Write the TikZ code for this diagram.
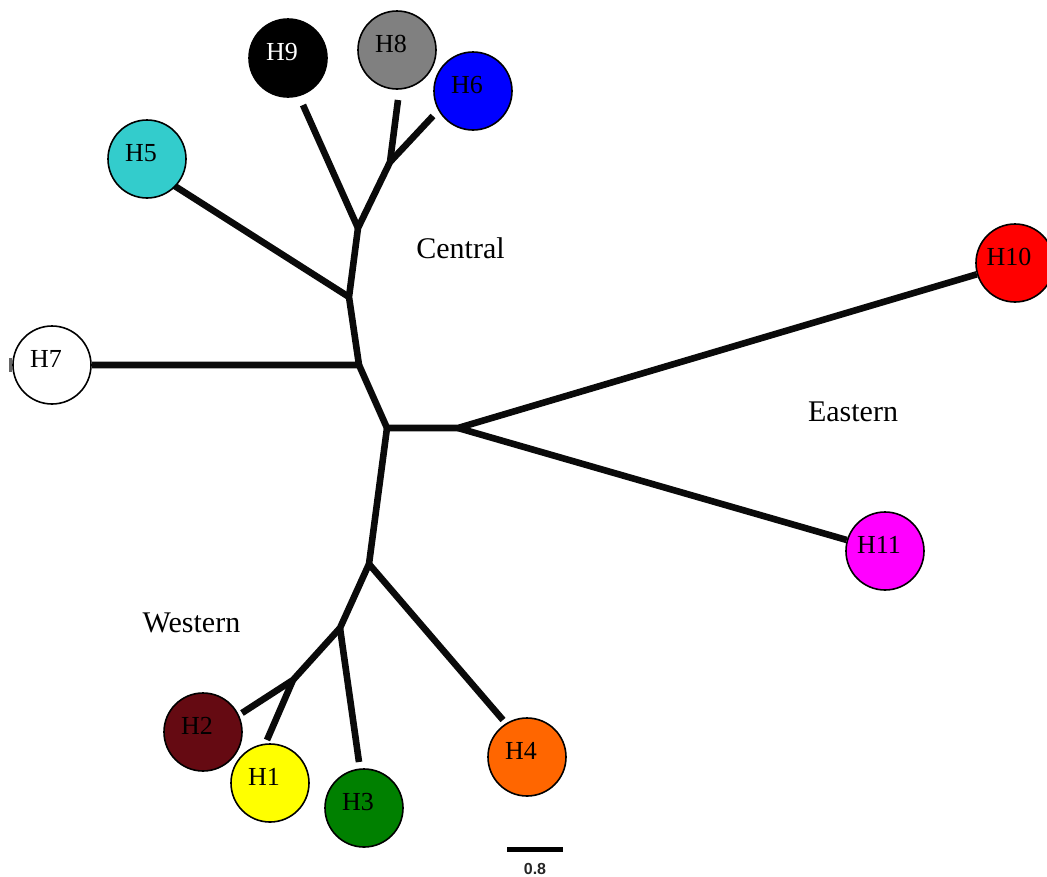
\documentclass[tikz,border=0pt]{standalone}
\usepackage{fontspec}
\setmainfont{Liberation Serif}
\newfontfamily\scalebarfont{Liberation Sans}
\usetikzlibrary{backgrounds}
\definecolor{hOne}{HTML}{FFFF00}
\definecolor{hTwo}{HTML}{650A12}
\definecolor{hThree}{HTML}{008000}
\definecolor{hFour}{HTML}{FF6600}
\definecolor{hFive}{HTML}{33CCCC}
\definecolor{hSix}{HTML}{0000FF}
\definecolor{hEight}{HTML}{808080}
\definecolor{hTen}{HTML}{FF0000}
\definecolor{hEleven}{HTML}{FF00FF}
\definecolor{branchcol}{HTML}{0A0A0A}
\begin{document}
\begin{tikzpicture}[x=1pt,y=-1pt,
  hap/.style={circle,draw=black,line width=1.6pt,minimum size=78pt,inner sep=0pt},
  labtxt/.style={font=\fontsize{26}{30}\selectfont,xshift=-6pt,yshift=6pt,inner sep=0pt},
  branch/.style={line width=6.6pt,draw=branchcol},
  region/.style={font=\fontsize{30}{36}\selectfont,anchor=base,inner sep=0pt}]
\useasboundingbox (0,0) rectangle (1047,876);
% haplotype circles
\node[hap,fill=black,label={[labtxt,text=white]center:H9}] (H9) at (288,58) {};
\node[hap,fill=hEight,label={[labtxt]center:H8}] (H8) at (397,50) {};
\node[hap,fill=hSix,label={[labtxt]center:H6}] (H6) at (473,91) {};
\node[hap,fill=hFive,label={[labtxt]center:H5}] (H5) at (147,159) {};
\node[hap,fill=white,label={[labtxt]center:H7}] (H7) at (52,365) {};
\node[hap,fill=hTen,label={[labtxt]center:H10}] (H10) at (1015,263) {};
\node[hap,fill=hEleven,label={[labtxt]center:H11}] (H11) at (885,551) {};
\node[hap,fill=hTwo,label={[labtxt]center:H2}] (H2) at (203,732) {};
\node[hap,fill=hOne,label={[labtxt]center:H1}] (H1) at (270,783) {};
\node[hap,fill=hThree,label={[labtxt]center:H3}] (H3) at (364,808) {};
\node[hap,fill=hFour,label={[labtxt]center:H4}] (H4) at (527,757) {};
% internal points
\coordinate (A) at (387,428);
\coordinate (B) at (458,428);
\coordinate (C) at (359,365);
\coordinate (D) at (349,297);
\coordinate (E) at (358,228);
\coordinate (F) at (390,162);
\coordinate (G) at (369,564);
\coordinate (I) at (340,628);
\coordinate (J) at (293,680);
% free branch ends
\coordinate (H9e) at (303,105);
\coordinate (H8e) at (398,100);
\coordinate (H6e) at (433,116);
\coordinate (H5e) at (170,183);
\coordinate (H2e) at (242,713);
\coordinate (H1e) at (267,740);
\coordinate (H3e) at (359,762);
\coordinate (H4e) at (503,720);
\begin{scope}[on background layer]
\draw[branch] (H7) -- (C) -- (A) -- (B) -- (H10);
\draw[branch] (B) -- (H11);
\draw[branch] (C) -- (D) -- (E) -- (F) -- (H8e);
\draw[branch] (D) -- (H5e);
\draw[branch] (E) -- (H9e);
\draw[branch] (F) -- (H6e);
\draw[branch] (A) -- (G) -- (I) -- (J) -- (H2e);
\draw[branch] (G) -- (H4e);
\draw[branch] (I) -- (H3e);
\draw[branch] (J) -- (H1e);
\end{scope}
% small mark left of H7
\draw[black!60,line width=3pt] (10,358) -- (10,372);
% region labels
\node[region] (central) at (460.5,258) {Central};
\node[region] (eastern) at (853,421) {Eastern};
\node[region] (western) at (191.5,632) {Western};
% scale bar
\coordinate (sbA) at (507,849);
\coordinate (sbB) at (563,849);
\draw[line width=5pt,black] (sbA) -- (sbB);
\node[font=\scalebarfont\bfseries\fontsize{16}{18}\selectfont,text=black!85,inner sep=0pt] (sblabel) at (535,868.5) {0.8};
\end{tikzpicture}
\end{document}
